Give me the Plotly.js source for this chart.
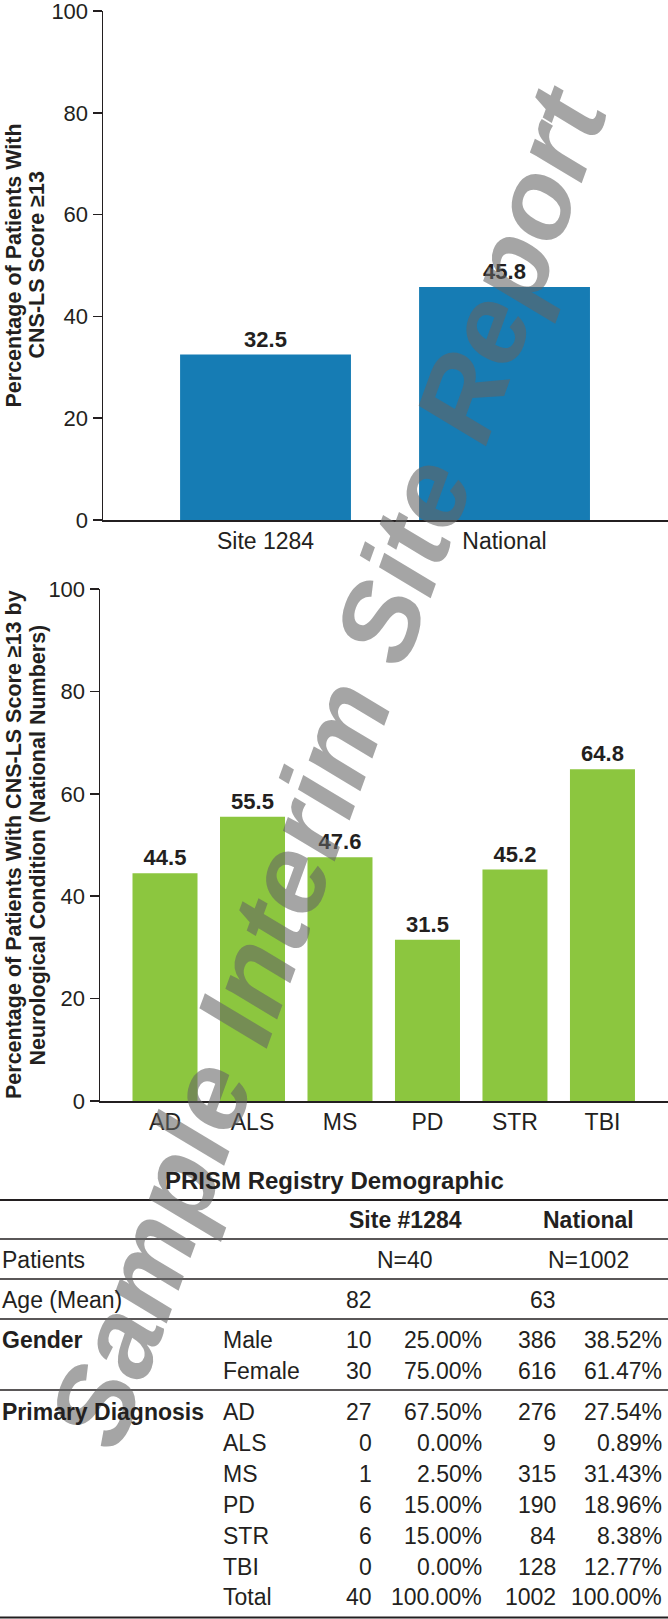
<!DOCTYPE html>
<html>
<head>
<meta charset="utf-8">
<script src="https://cdn.plot.ly/plotly-3.0.1.min.js"></script>
<style>
  html, body { margin: 0; padding: 0; background: #ffffff; }
  #chart { width: 668px; height: 1619px; }
</style>
</head>
<body>
<div id="chart"></div>
<script>
// ---------- DATA ----------
const siteCategories = ['Site 1284', 'National'];
const siteValues = [32.5, 45.8];

const conditionCategories = ['AD', 'ALS', 'MS', 'PD', 'STR', 'TBI'];
const conditionValues = [44.5, 55.5, 47.6, 31.5, 45.2, 64.8];

const yTicks = [0, 20, 40, 60, 80, 100];

const topYTitle = ['Percentage of Patients With', 'CNS-LS Score ≥13'];
const bottomYTitle = ['Percentage of Patients With CNS-LS Score ≥13 by', 'Neurological Condition (National Numbers)'];

const tableTitle = 'PRISM Registry Demographic';
const groupHeaders = ['Site #1284', 'National'];
const patientCounts = ['N=40', 'N=1002'];
const ageMeans = ['82', '63'];

const genderLabels = ['Male', 'Female'];
const genderSiteN = ['10', '30'];
const genderSitePct = ['25.00%', '75.00%'];
const genderNatN = ['386', '616'];
const genderNatPct = ['38.52%', '61.47%'];

const diagnosisLabels = ['AD', 'ALS', 'MS', 'PD', 'STR', 'TBI', 'Total'];
const diagnosisSiteN = ['27', '0', '1', '6', '6', '0', '40'];
const diagnosisSitePct = ['67.50%', '0.00%', '2.50%', '15.00%', '15.00%', '0.00%', '100.00%'];
const diagnosisNatN = ['276', '9', '315', '190', '84', '128', '1002'];
const diagnosisNatPct = ['27.54%', '0.89%', '31.43%', '18.96%', '8.38%', '12.77%', '100.00%'];

const watermarkText = 'Sample Interim Site Report';

// ---------- STYLE ----------
const FONT = 'Liberation Sans, Arial, Helvetica, sans-serif';
const INK = '#231f20';
const BLUE = '#167cb4';
const GREEN = '#8cc63f';
const W = 668, H = 1619;

// plot boxes (pixels)
const top1 = 11, bot1 = 520, left1 = 103;
const top2 = 589, bot2 = 1101, left2 = 100;

// ---------- TRACES ----------
const traces = [
  {
    type: 'bar', x: siteCategories, y: siteValues, xaxis: 'x', yaxis: 'y',
    marker: { color: BLUE }, width: 0.715,
    text: siteValues.map(v => v.toFixed(1)), textposition: 'outside',
    textfont: { family: FONT, size: 22, color: INK, weight: 'bold' },
    cliponaxis: false, hoverinfo: 'skip'
  },
  {
    type: 'bar', x: conditionCategories, y: conditionValues, xaxis: 'x2', yaxis: 'y2',
    marker: { color: GREEN }, width: 0.743,
    text: conditionValues.map(v => v.toFixed(1)), textposition: 'outside',
    textfont: { family: FONT, size: 22, color: INK, weight: 'bold' },
    cliponaxis: false, hoverinfo: 'skip'
  },
  { type: 'scatter', x: [], y: [], xaxis: 'x3', yaxis: 'y3', hoverinfo: 'skip' }
];

// ---------- AXES ----------
function yAxis(domain, anchor) {
  return {
    domain: domain, anchor: anchor, range: [0, 100], tickvals: yTicks,
    ticks: 'outside', ticklen: 9, tickwidth: 1.5, tickcolor: INK,
    showline: true, linecolor: INK, linewidth: 1.5,
    showgrid: false, zeroline: false, fixedrange: true,
    ticklabeloverflow: 'allow',
    tickfont: { family: FONT, size: 22, color: INK }
  };
}
function xAxis(domain, range, anchor) {
  return {
    domain: domain, anchor: anchor, type: 'category', range: range,
    showline: true, linecolor: INK, linewidth: 1.5, ticks: '',
    showgrid: false, zeroline: false, fixedrange: true,
    tickfont: { family: FONT, size: 23, color: INK }
  };
}

const ann = [];
const shapes = [];

// watermark (drawn first, under the other annotations)
ann.push({
  xref: 'paper', yref: 'paper', x: 328 / W, y: 1 - 766 / H,
  text: watermarkText, showarrow: false, textangle: -70,
  xanchor: 'center', yanchor: 'middle',
  font: { family: FONT, size: 112, color: 'rgba(100,100,100,0.58)', weight: 'bold', style: 'italic' }
});

// y-axis titles (one annotation per line, rotated)
function yTitle(lines, xs, yCenterPx) {
  lines.forEach((t, i) => {
    ann.push({
      xref: 'paper', yref: 'paper', x: xs[i] / W, y: 1 - yCenterPx / H,
      text: t, showarrow: false, textangle: -90,
      xanchor: 'center', yanchor: 'middle', borderpad: 0,
      font: { family: FONT, size: 21.5, color: INK, weight: 'bold' }
    });
  });
}
yTitle(topYTitle, [14, 37], (top1 + bot1) / 2);
yTitle(bottomYTitle, [14, 37.5], (top2 + bot2) / 2);

// ---------- TABLE (annotations on a pixel-scaled hidden axis pair) ----------
function cell(x, y, text, anchor, bold, size) {
  ann.push({
    xref: 'x3', yref: 'y3', x: x, y: y, text: text, showarrow: false,
    xanchor: anchor, yanchor: 'middle', borderpad: 0,
    font: { family: FONT, size: size || 23, color: INK, weight: bold ? 'bold' : 'normal' }
  });
}
function hline(y, w) {
  shapes.push({ type: 'line', xref: 'x3', yref: 'y3', x0: 0, x1: W, y0: y, y1: y,
    line: { color: INK, width: w } });
}
const colLabel = 1, colSub = 222, colSiteN = 373, colSitePct = 483, colNatN = 557, colNatPct = 663;
const colSiteMid = 405, colNatMid = 588;

cell(W / 2, 1180, tableTitle, 'center', true, 24);
hline(1200, 2);
cell(colSiteMid, 1220, groupHeaders[0], 'center', true);
cell(colNatMid, 1220, groupHeaders[1], 'center', true);
hline(1239, 1.5);
cell(colLabel, 1260, 'Patients', 'left', false);
cell(colSiteMid, 1260, patientCounts[0], 'center', false);
cell(colNatMid, 1260, patientCounts[1], 'center', false);
hline(1279, 1.5);
cell(colLabel, 1300, 'Age (Mean)', 'left', false);
cell(colSiteN, 1300, ageMeans[0], 'right', false);
cell(colNatN, 1300, ageMeans[1], 'right', false);
hline(1319, 1.5);
let yy = 1340;
cell(colLabel, yy, 'Gender', 'left', true);
genderLabels.forEach((lab, i) => {
  const y = yy + i * 30.5;
  cell(colSub, y, lab, 'left', false);
  cell(colSiteN, y, genderSiteN[i], 'right', false);
  cell(colSitePct, y, genderSitePct[i], 'right', false);
  cell(colNatN, y, genderNatN[i], 'right', false);
  cell(colNatPct, y, genderNatPct[i], 'right', false);
});
hline(1390, 1.5);
yy = 1412;
cell(colLabel, yy, 'Primary Diagnosis', 'left', true);
diagnosisLabels.forEach((lab, i) => {
  const y = yy + i * 30.9;
  cell(colSub, y, lab, 'left', false);
  cell(colSiteN, y, diagnosisSiteN[i], 'right', false);
  cell(colSitePct, y, diagnosisSitePct[i], 'right', false);
  cell(colNatN, y, diagnosisNatN[i], 'right', false);
  cell(colNatPct, y, diagnosisNatPct[i], 'right', false);
});
hline(1617.5, 2);

const layout = {
  width: W, height: H,
  margin: { l: 0, r: 0, t: 0, b: 0, pad: 0 },
  paper_bgcolor: '#ffffff', plot_bgcolor: 'rgba(0,0,0,0)',
  showlegend: false,
  font: { family: FONT, color: INK },
  xaxis: xAxis([left1 / W, 1], [-0.68, 1.684], 'y'),
  yaxis: yAxis([1 - bot1 / H, 1 - top1 / H], 'x'),
  xaxis2: xAxis([left2 / W, 1], [-0.743, 5.749], 'y2'),
  yaxis2: yAxis([1 - bot2 / H, 1 - top2 / H], 'x2'),
  xaxis3: { domain: [0, 1], range: [0, W], visible: false, fixedrange: true, anchor: 'y3' },
  yaxis3: { domain: [0, 1], range: [H, 0], visible: false, fixedrange: true, anchor: 'x3' },
  annotations: ann,
  shapes: shapes
};

Plotly.newPlot('chart', traces, layout, { displayModeBar: false, staticPlot: true });
</script>
</body>
</html>
